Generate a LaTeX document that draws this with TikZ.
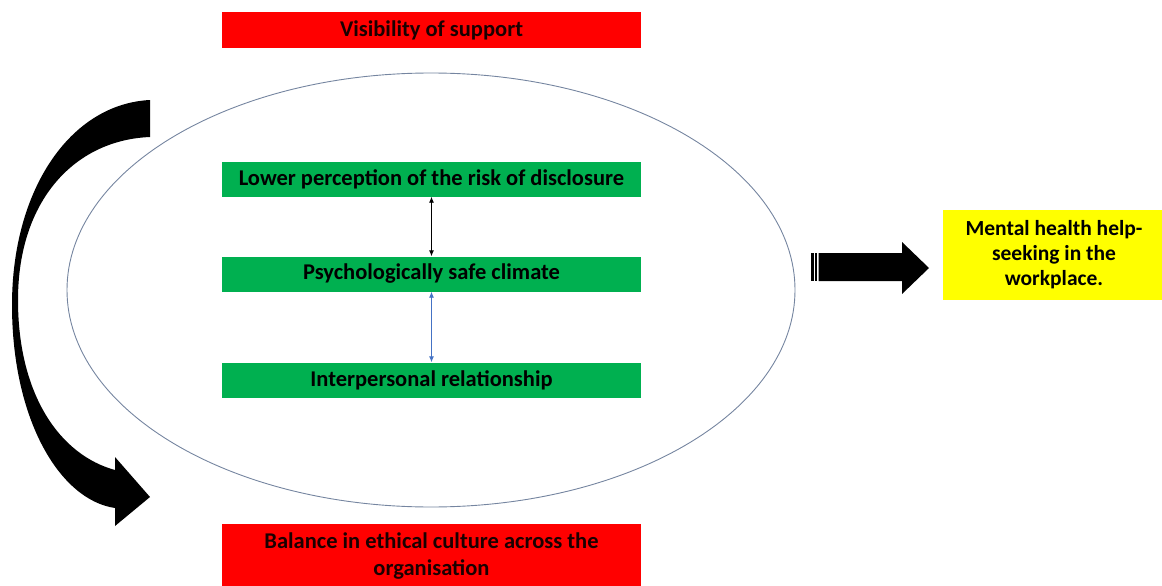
\documentclass[tikz,border=0pt]{standalone}
\usepackage{fontspec}
\setmainfont{Carlito}
\usetikzlibrary{shapes.geometric,arrows.meta}
\definecolor{boxred}{HTML}{FF0000}
\definecolor{boxgreen}{HTML}{00B050}
\definecolor{boxyellow}{HTML}{FFFF00}
\definecolor{ringline}{HTML}{7585A0}
\definecolor{linkblue}{HTML}{4472C4}
\definecolor{darktext}{HTML}{1A0000}
\begin{document}
\begin{tikzpicture}[x=1pt,y=-1pt,
  band/.style={rectangle,inner sep=0pt,minimum width=419pt,font=\bfseries\fontsize{22.5}{27}\selectfont,align=center,text=darktext},
  redband/.style={band,fill=boxred},
  greenband/.style={band,fill=boxgreen,minimum height=35pt,text=black},
  link/.style={{Latex[length=6pt,width=5pt]}-{Latex[length=6pt,width=5pt]},line width=0.9pt}]
\useasboundingbox (0,0) rectangle (1162,586);

% framing ellipse
\node[ellipse,draw=ringline,line width=0.9pt,minimum width=728pt,minimum height=434pt,inner sep=0pt] (ring) at (431,290) {};

% outer bands
\node[redband,minimum height=36pt] (vis) at (431.5,30) {Visibility of support};
\node[redband,minimum height=64pt] (eth) at (431.5,556) {Balance in ethical culture across the\\organisation};

% inner bands
\node[greenband] (risk) at (431.5,179) {Lower perception of the risk of disclosure};
\node[greenband] (safe) at (431.5,274) {Psychologically safe climate};
\node[greenband] (rel) at (431.5,380) {Interpersonal relationship};

\draw[link,black] (risk.south) -- (safe.north);
\draw[link,linkblue] (safe.south) -- (rel.north);

% outcome
\node[rectangle,fill=boxyellow,minimum width=222pt,minimum height=90pt,inner sep=0pt,
      font=\bfseries\fontsize{21.5}{25}\selectfont,align=center] (help) at (1054,255)
      {Mental health help-\\seeking in the\\workplace.};

% block arrow towards the outcome
\fill (811,253) rectangle (813.5,281);
\fill (815,253) rectangle (817,281);
\fill (818.5,253) -- (902,253) -- (902,242) -- (929,268) -- (902,294) -- (902,281) -- (818.5,281) -- cycle;

% curved block arrow on the left
\fill (150,100) .. controls (70,104) and (12,190) .. (12,305)
      .. controls (12,420) and (60,500) .. (115,508)
      -- (115,526) -- (150,497) -- (115,457) -- (115,470)
      .. controls (60,455) and (18,395) .. (18,300)
      .. controls (18,200) and (75,140) .. (150,137) -- cycle;
\end{tikzpicture}
\end{document}
